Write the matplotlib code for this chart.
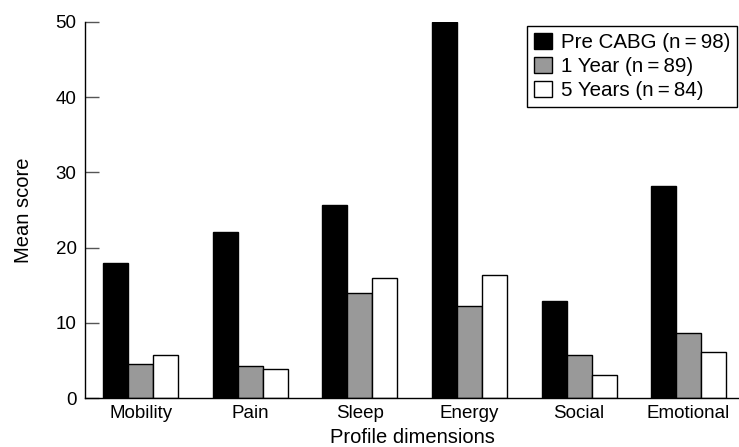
import matplotlib
matplotlib.use("Agg")
import matplotlib.pyplot as plt
import numpy as np

plt.rcParams['font.family'] = ['Liberation Sans', 'DejaVu Sans']

categories = ["Mobility", "Pain", "Sleep", "Energy", "Social", "Emotional"]
pre_cabg = [18.0, 22.1, 25.6, 50.0, 12.9, 28.2]
one_year = [4.5, 4.2, 14.0, 12.2, 5.7, 8.7]
five_years = [5.7, 3.9, 15.9, 16.4, 3.1, 6.1]
series_labels = ["Pre CABG (n\u2009=\u200998)", "1 Year (n\u2009=\u200989)", "5 Years (n\u2009=\u200984)"]
colors = ["#000000", "#999999", "#ffffff"]

fig = plt.figure(figsize=(7.39, 4.47), dpi=100)
ax = fig.add_axes([0.115, 0.1096, 0.885, 0.8414])

x = np.arange(len(categories))
w = 0.228
for i, (vals, lab, col) in enumerate(zip([pre_cabg, one_year, five_years], series_labels, colors)):
    ax.bar(x + (i - 1) * w, vals, width=w, color=col, edgecolor="black", linewidth=1.0, label=lab)

ax.set_xlim(-0.51, 5.46)
ax.set_ylim(0, 50)
ax.set_yticks([0, 10, 20, 30, 40, 50])
ax.set_xticks(x)
ax.set_xticklabels(categories, fontsize=13.5)
ax.tick_params(axis='y', direction='in', length=10, width=1, colors='#555555', labelcolor='black', labelsize=13.5, pad=6)
ax.tick_params(axis='x', length=0, pad=5)
for s in ['top', 'right']:
    ax.spines[s].set_visible(False)
ax.spines['left'].set_linewidth(1)
ax.spines['bottom'].set_linewidth(1)

ax.set_ylabel("Mean score", fontsize=14.5, labelpad=16)
ax.set_xlabel("Profile dimensions", fontsize=14.5, labelpad=4)

leg = ax.legend(loc='upper right', bbox_to_anchor=(0.9975, 0.99), fontsize=14.8, frameon=True, fancybox=False,
                framealpha=1, edgecolor='black', handlelength=0.85, handleheight=0.85, handletextpad=0.45,
                borderpad=0.35, labelspacing=0.22, borderaxespad=0)
leg.get_frame().set_linewidth(1)

fig.savefig("out.png", dpi=100)
